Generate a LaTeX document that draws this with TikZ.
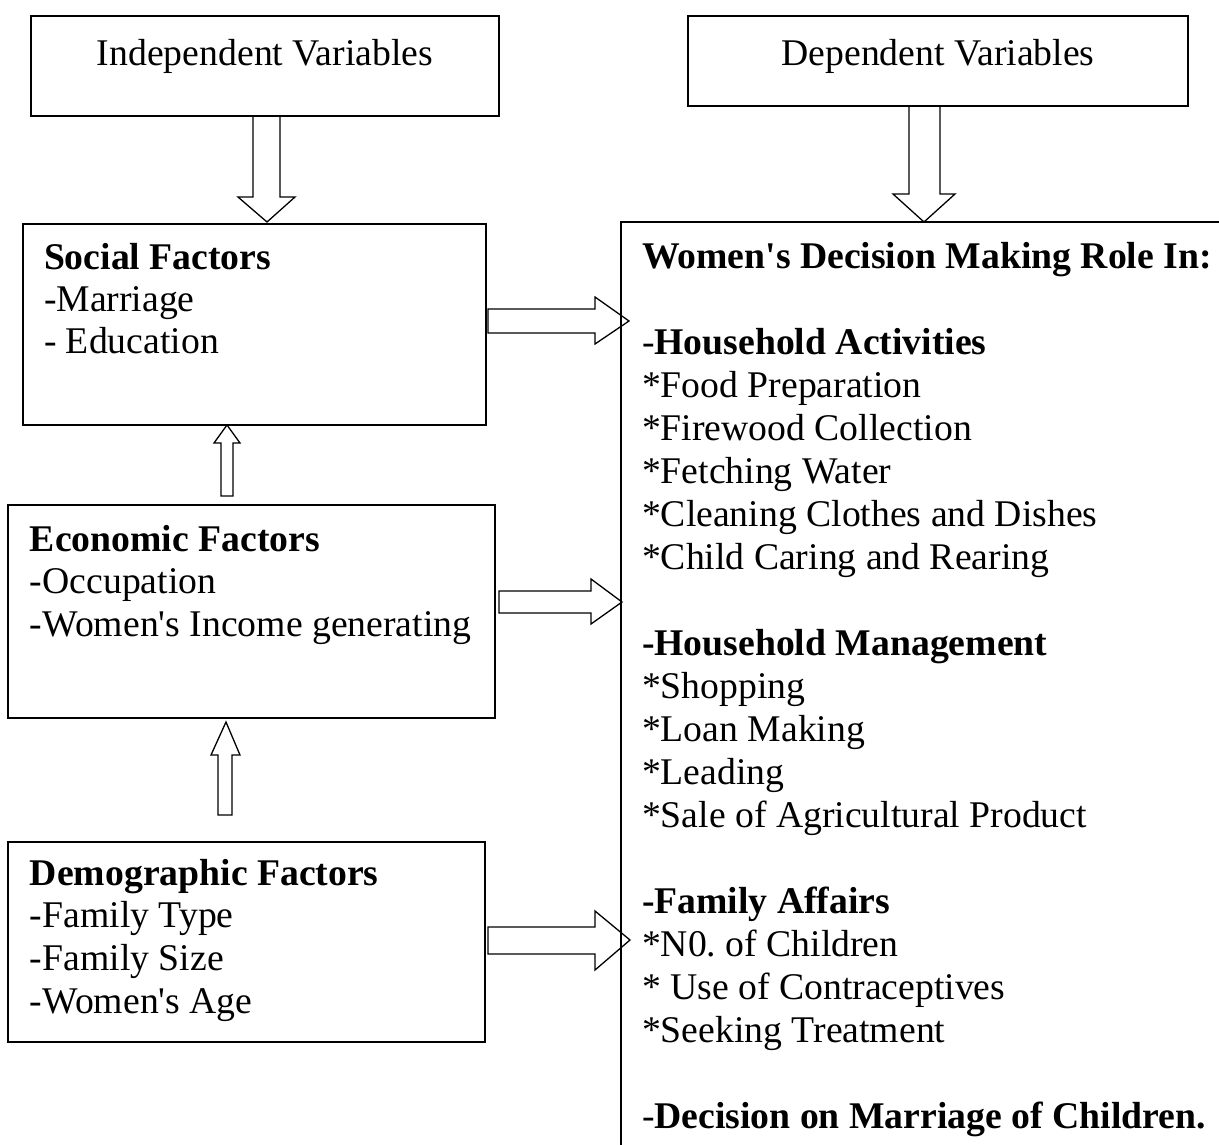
\documentclass[tikz,border=0pt]{standalone}
\usepackage{fontspec}
\setmainfont{Liberation Serif}[Ligatures=TeXOff]
\frenchspacing
\begin{document}
\begin{tikzpicture}[x=1pt,y=-1pt,
  boxst/.style={draw,line width=1.6pt,inner sep=0pt,outer sep=0pt,anchor=north west},
  txt/.style={inner sep=0pt,outer sep=0pt,anchor=base west,font=\fontsize{37.7}{43}\selectfont},
  ctxt/.style={inner sep=0pt,outer sep=0pt,anchor=base,font=\fontsize{37.7}{43}\selectfont},
  blockarrow/.style={draw,line width=1.3pt,line join=miter}]
\useasboundingbox (0,0) rectangle (1219,1144);
\clip (0,0) rectangle (1219,1144);
% boxes
\node[boxst,minimum width=468pt,minimum height=100pt] (ind) at (31,16) {};
\node[boxst,minimum width=500pt,minimum height=90pt] (dep) at (688,16) {};
\node[boxst,minimum width=463pt,minimum height=201pt] (soc) at (23,224) {};
\node[boxst,minimum width=487pt,minimum height=213pt] (eco) at (8,505) {};
\node[boxst,minimum width=477pt,minimum height=200pt] (dem) at (8,842) {};
\coordinate (rtop) at (621,222);
\draw[line width=1.6pt] (621,1160) -- (rtop) -- (1240,222);
% headings
\node[ctxt] (indt) at (265,65) {Independent Variables};
\node[ctxt] (dept) at (938,65) {Dependent Variables};
% left texts
\node[txt] (s0) at (44,269) {\textbf{Social Factors}};
\node[txt] (s1) at (44,311) {-Marriage};
\node[txt] (s2) at (44,353) {- Education};
\node[txt] (e0) at (30,551) {\textbf{Economic Factors}};
\node[txt] (e1) at (30,593) {-Occupation};
\node[txt] (e2) at (30,636) {-Women's Income generating};
\node[txt] (d0) at (30,885) {\textbf{Demographic Factors}};
\node[txt] (d1) at (30,927) {-Family Type};
\node[txt] (d2) at (30,970) {-Family Size};
\node[txt] (d3) at (30,1013) {-Women's Age};
% right texts
\foreach \k/\t in {0/{\textbf{Women's Decision Making Role In:}},
  2/{-\textbf{Household Activities}},
  3/{*Food Preparation},
  4/{*Firewood Collection},
  5/{*Fetching Water},
  6/{*Cleaning Clothes and Dishes},
  7/{*Child Caring and Rearing},
  9/{\textbf{-Household Management}},
  10/{*Shopping},
  11/{*Loan Making},
  12/{*Leading},
  13/{*Sale of Agricultural Product},
  15/{\textbf{-Family Affairs}},
  16/{*N0. of Children},
  17/{* Use of Contraceptives},
  18/{*Seeking Treatment},
  20/{-\textbf{Decision on Marriage of Children.}}}
  \node[txt] (r\k) at (642,268+43*\k) {\t};
% block arrows
\draw[blockarrow] (253,116) -- (253,197) -- (238,197) -- (267,222) -- (295,197) -- (280,197) -- (280,116);
\draw[blockarrow] (909,106) -- (909,194) -- (893,194) -- (924,222) -- (955,194) -- (940,194) -- (940,106);
\draw[blockarrow] (488,309) -- (595,309) -- (595,297) -- (629,321) -- (595,344) -- (595,333) -- (488,333) -- cycle;
\draw[blockarrow] (499,591) -- (591,591) -- (591,579) -- (622,602) -- (591,624) -- (591,613) -- (499,613) -- cycle;
\draw[blockarrow] (488,927) -- (595,927) -- (595,911) -- (630,940) -- (595,970) -- (595,954) -- (488,954) -- cycle;
\draw[blockarrow] (221,496) -- (221,443) -- (214,443) -- (227,425) -- (240,443) -- (233,443) -- (233,496) -- cycle;
\draw[blockarrow] (218,815) -- (218,755) -- (211,755) -- (226,722) -- (240,755) -- (232,755) -- (232,815) -- cycle;
\end{tikzpicture}
\end{document}
